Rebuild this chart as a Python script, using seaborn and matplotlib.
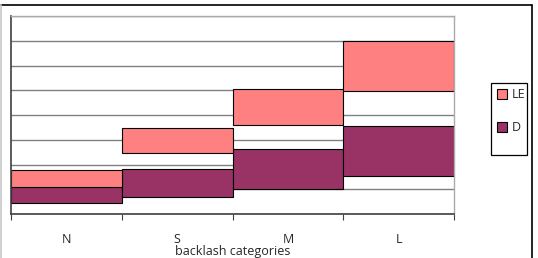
import pandas as pd
import matplotlib
matplotlib.use("Agg")
import matplotlib.pyplot as plt
import seaborn as sns
from matplotlib.patches import Rectangle
from matplotlib.lines import Line2D

categories = ["N", "S", "M", "L"]
le_low = [1.09, 2.46, 3.60, 4.97]
le_high = [1.78, 3.47, 5.05, 6.99]
d_low = [0.44, 0.69, 1.01, 1.54]
d_high = [1.09, 1.82, 2.63, 3.56]

sns.set_style("white")
plt.rcParams['font.family'] = ['Open Sans', 'DejaVu Sans']

df = pd.DataFrame({"cat": categories,
                   "le_h": [h - l for h, l in zip(le_high, le_low)],
                   "d_h": [h - l for h, l in zip(d_high, d_low)]})

fig = plt.figure(figsize=(5.38, 2.58), dpi=100)
ax = fig.add_axes([11 / 538, 1 - 214 / 258, 443 / 538, 198 / 258])

# grid under bars
ax.set_axisbelow(True)
ax.set_ylim(0, 8)
ax.set_yticks(range(0, 9))
ax.yaxis.grid(True, color="#808080", lw=1.0)
ax.tick_params(axis="y", left=False, labelleft=False)

sns.barplot(data=df, x="cat", y="d_h", bottom=d_low, order=categories,
            color="#993366", saturation=1, width=1, edgecolor="black",
            linewidth=0.8, errorbar=None, ax=ax)
sns.barplot(data=df, x="cat", y="le_h", bottom=le_low, order=categories,
            color="#FF8080", saturation=1, width=1, edgecolor="black",
            linewidth=0.8, errorbar=None, ax=ax)

ax.set_xlim(-0.5, 3.5)
ax.set_xticks(range(4))
ax.set_xticklabels(categories, fontsize=9)
ax.set_xticks([-0.5, 0.5, 1.5, 2.5, 3.5], minor=True)
ax.tick_params(axis="x", which="major", length=0, pad=14)
ax.tick_params(axis="x", which="minor", length=4, width=0.8, color="#404040",
               bottom=True)
ax.set_xlabel("backlash categories", fontsize=9, labelpad=-1)
ax.set_ylabel("")

for side in ["left", "bottom"]:
    ax.spines[side].set_color("#404040")
    ax.spines[side].set_linewidth(1.2)
for side in ["top", "right"]:
    ax.spines[side].set_visible(True)
    ax.spines[side].set_color("#aaaaaa")
    ax.spines[side].set_linewidth(1.0)

handles = [Rectangle((0, 0), 1, 1, fc="#FF8080", ec="black", lw=0.8),
           Rectangle((0, 0), 1, 1, fc="#993366", ec="black", lw=0.8)]
leg = fig.legend(handles, ["LE", "D"], loc="upper left",
                 bbox_to_anchor=(494 / 538, 1 - 86 / 258), fontsize=9,
                 handlelength=0.8, handleheight=0.8, handletextpad=0.4,
                 labelspacing=1.6, borderpad=0.2, borderaxespad=0,
                 frameon=False)

# legend box
fig.patches.append(Rectangle((491 / 538, 1 - 155 / 258), 36 / 538, 72 / 258,
                             transform=fig.transFigure, fill=False,
                             ec="black", lw=0.9))

# outer chart border: black top/right, light grey left
top = 1 - 5 / 258
right = 532 / 538
left = 1 / 538
fig.lines.append(Line2D([left, right], [top, top], transform=fig.transFigure,
                        color="black", lw=1.2))
fig.lines.append(Line2D([right, right], [0, top], transform=fig.transFigure,
                        color="black", lw=1.2))
fig.lines.append(Line2D([left, left], [0, top], transform=fig.transFigure,
                        color="#c8c8c8", lw=1.2))

fig.savefig("out.png", dpi=100)
